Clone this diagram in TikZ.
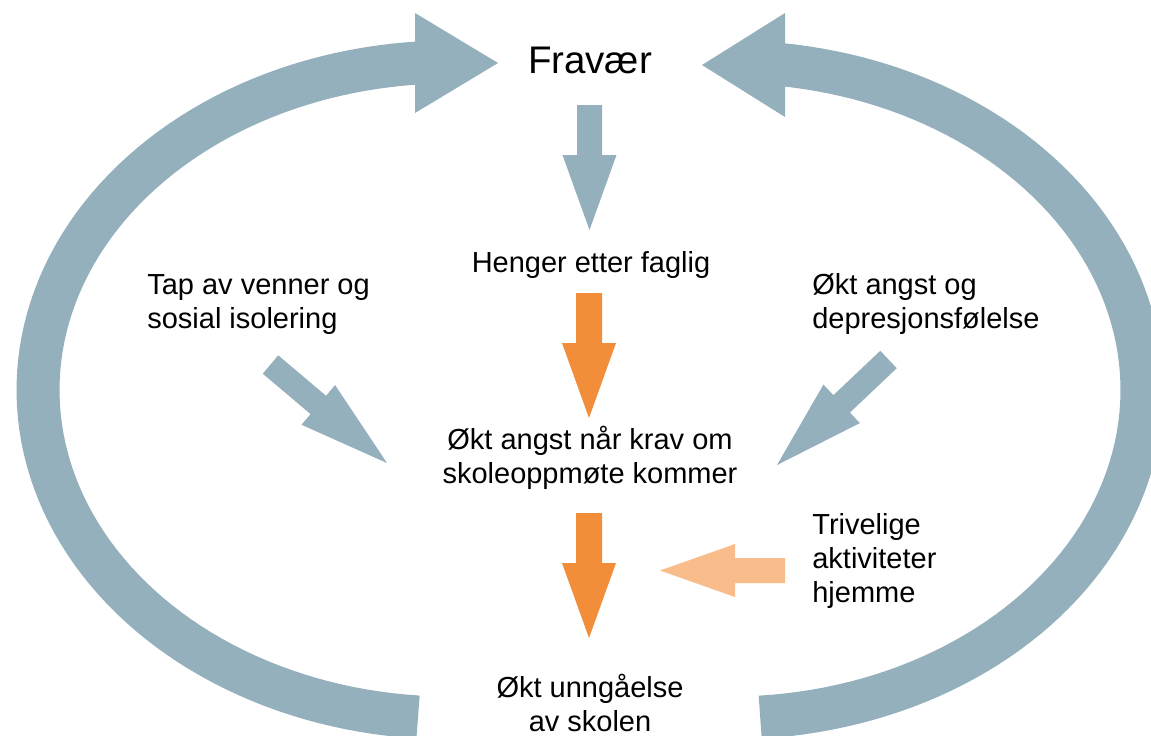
\documentclass[tikz,border=0pt]{standalone}
\usepackage{fontspec}
\setmainfont{Liberation Sans}
\usetikzlibrary{calc}
\definecolor{bandblue}{RGB}{148,176,188}
\definecolor{darkorange}{RGB}{242,141,58}
\definecolor{lightorange}{RGB}{248,189,138}
% #1 colour, #2 tail, #3 tip, #4 shaft half width, #5 head half width, #6 head length
\newcommand\blockarrow[6]{%
  \coordinate (ba-b) at ($(#3)!#6!(#2)$);
  \fill[#1] ($(#2)!#4!90:(#3)$) -- ($(ba-b)!#4!90:(#3)$) -- ($(ba-b)!#5!90:(#3)$)
    -- (#3) -- ($(ba-b)!#5!-90:(#3)$) -- ($(ba-b)!#4!-90:(#3)$) -- ($(#2)!#4!-90:(#3)$) -- cycle;}
\begin{document}
\begin{tikzpicture}[x=0.02cm,y=-0.02cm,
  lbl/.style={inner sep=0pt, font=\fontsize{16.5}{19.6}\selectfont},
  title/.style={inner sep=0pt, font=\fontsize{21.9}{26}\selectfont},
  band/.style={draw=bandblue, line width=0.86cm}]
\useasboundingbox (0,0) rectangle (1151,735);
\clip (0,0) rectangle (1151,735);
% big loop arrows
\draw[band] plot[domain=94.45:266, samples=90] ({450+412*cos(\x)},{390+328*sin(\x)});
\coordinate (lhA) at (415,13); \coordinate (lhT) at (498,63); \coordinate (lhB) at (415,113);
\fill[bandblue] (lhA) -- (lhT) -- (lhB) -- cycle;
\draw[band] plot[domain=276.8:445.8, samples=90] ({730+412*cos(\x)},{390+328*sin(\x)});
\coordinate (rhA) at (785,13); \coordinate (rhT) at (702,65); \coordinate (rhB) at (785,117);
\fill[bandblue] (rhA) -- (rhT) -- (rhB) -- cycle;
% texts
\node[title, anchor=base] (fravaer) at (590,73) {Fravær};
\node[lbl, anchor=base] (henger) at (591,272) {Henger etter faglig};
\node[lbl, anchor=base west] (tap) at (147,294) {\begin{tabular}[t]{@{}l@{}}Tap av venner og\\sosial isolering\end{tabular}};
\node[lbl, anchor=base west] (depr) at (812,294) {\begin{tabular}[t]{@{}l@{}}Økt angst og\\depresjonsfølelse\end{tabular}};
\node[lbl, anchor=base] (krav) at (590,449) {\begin{tabular}[t]{@{}c@{}}Økt angst når krav om\\skoleoppmøte kommer\end{tabular}};
\node[lbl, anchor=base west] (triv) at (812,534) {\begin{tabular}[t]{@{}l@{}}Trivelige\\aktiviteter\\hjemme\end{tabular}};
\node[lbl, anchor=base] (unng) at (590,697) {\begin{tabular}[t]{@{}c@{}}Økt unngåelse\\av skolen\end{tabular}};
% block arrows
\coordinate (a1t) at (589.5,105); \coordinate (a1p) at (589.5,230);
\blockarrow{bandblue}{a1t}{a1p}{0.25cm}{0.54cm}{1.5cm}
\coordinate (a2t) at (589,293); \coordinate (a2p) at (589,418);
\blockarrow{darkorange}{a2t}{a2p}{0.26cm}{0.54cm}{1.5cm}
\coordinate (a3t) at (589,513); \coordinate (a3p) at (589,638);
\blockarrow{darkorange}{a3t}{a3p}{0.26cm}{0.54cm}{1.5cm}
\coordinate (a4t) at (785,570.5); \coordinate (a4p) at (660,570.5);
\blockarrow{lightorange}{a4t}{a4p}{0.25cm}{0.53cm}{1.5cm}
\coordinate (a5t) at (270.5,364.5); \coordinate (a5p) at (387,463);
\blockarrow{bandblue}{a5t}{a5p}{0.24cm}{0.52cm}{1.8cm}
\coordinate (a6t) at (888.5,359.5); \coordinate (a6p) at (777,465);
\blockarrow{bandblue}{a6t}{a6p}{0.24cm}{0.53cm}{1.78cm}
\end{tikzpicture}
\end{document}
